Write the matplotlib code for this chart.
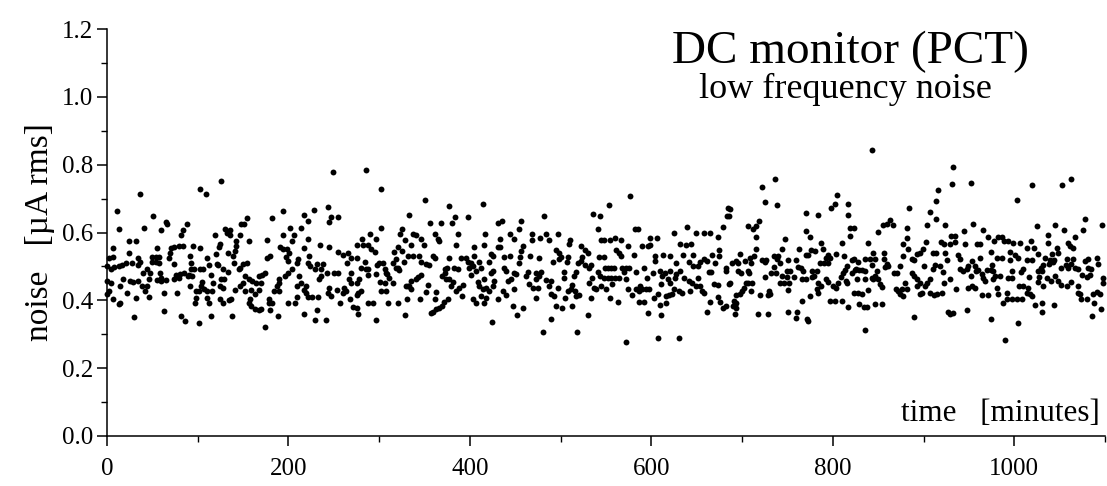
import matplotlib
matplotlib.use('Agg')
import matplotlib.pyplot as plt
from matplotlib.ticker import MultipleLocator, FormatStrFormatter

# readings: (time [minutes], noise [uA rms])
seg_0_135 = [(126,0.751),(102,0.727),(109,0.715),(36,0.715),(11,0.663),(51,0.649),(65,0.631),(66,0.625),(88,0.625),(13,0.611),(41,0.612),(60,0.606),(84,0.608),(82,0.592),(130,0.611),(132,0.599),(119,0.592),(24,0.575),(32,0.575),(7,0.555),(55,0.555),(71,0.553),(74,0.558),(79,0.560),(84,0.560),(95,0.560),(103,0.555),(123,0.557),(124,0.567),(24,0.540),(69,0.540),(120,0.537),(133,0.540),(2,0.525),(7,0.528),(34,0.525),(36,0.513),(50,0.528),(54,0.528),(57,0.528),(68,0.524),(91,0.530),(110,0.524),(50,0.513),(54,0.513),(57,0.511),(93,0.511),(74,0.508),(121,0.506),(0,0.501),(4,0.493),(8,0.499),(13,0.501),(16,0.503),(21,0.509),(27,0.509),(34,0.504),(40,0.481),(44,0.491),(47,0.481),(93,0.493),(96,0.491),(102,0.491),(106,0.493),(112,0.503),(122,0.504),(128,0.491),(133,0.483),(58,0.480),(60,0.467),(76,0.474),(80,0.477),(85,0.480),(90,0.474),(94,0.472),(115,0.474),(18,0.462),(25,0.457),(29,0.454),(34,0.458),(46,0.464),(55,0.460),(60,0.457),(65,0.460),(74,0.464),(79,0.467),(89,0.472),(105,0.454),(126,0.464),(129,0.462),(4,0.450),(14,0.442),(39,0.442),(44,0.442),(42,0.427),(91,0.442),(104,0.442),(107,0.432),(117,0.452),(125,0.442),(2,0.427),(0,0.420),(22,0.422),(63,0.422),(77,0.422),(98,0.427),(101,0.427),(110,0.427),(116,0.427),(128,0.435),(7,0.403),(32,0.408),(46,0.411),(98,0.408),(97,0.393),(110,0.408),(124,0.405),(134,0.401),(14,0.393),(13,0.388),(112,0.391),(128,0.391),(63,0.370),(30,0.352),(82,0.354),(86,0.339),(101,0.334),(115,0.354),(0,0.457)]

seg_135_270 = [(249,0.777),(243,0.675),(228,0.665),(194,0.664),(217,0.651),(221,0.633),(247,0.646),(245,0.630),(255,0.645),(154,0.644),(148,0.625),(151,0.625),(182,0.644),(202,0.612),(214,0.612),(136,0.607),(135,0.594),(147,0.593),(194,0.594),(206,0.594),(176,0.579),(156,0.574),(204,0.574),(221,0.581),(142,0.574),(142,0.560),(141,0.545),(139,0.532),(235,0.562),(245,0.557),(191,0.557),(194,0.550),(198,0.552),(201,0.540),(217,0.554),(255,0.542),(260,0.535),(266,0.540),(269,0.525),(180,0.530),(176,0.524),(197,0.528),(200,0.515),(223,0.530),(222,0.509),(224,0.501),(211,0.521),(209,0.511),(140,0.511),(150,0.508),(154,0.511),(146,0.496),(145,0.491),(231,0.506),(229,0.493),(238,0.506),(236,0.491),(264,0.511),(204,0.493),(242,0.480),(250,0.480),(255,0.480),(269,0.480),(174,0.480),(171,0.474),(168,0.472),(152,0.472),(157,0.462),(160,0.457),(164,0.452),(196,0.472),(200,0.481),(212,0.472),(234,0.462),(236,0.472),(267,0.462),(269,0.452),(150,0.452),(147,0.442),(190,0.462),(190,0.450),(187,0.442),(214,0.452),(219,0.442),(217,0.430),(170,0.450),(167,0.430),(209,0.442),(245,0.437),(261,0.437),(263,0.427),(141,0.430),(137,0.403),(152,0.427),(159,0.430),(163,0.418),(184,0.427),(190,0.427),(219,0.421),(222,0.411),(244,0.423),(247,0.413),(253,0.430),(260,0.421),(179,0.405),(182,0.391),(158,0.405),(209,0.411),(226,0.411),(232,0.411),(268,0.403),(156,0.391),(159,0.383),(163,0.375),(167,0.371),(170,0.373),(200,0.391),(207,0.391),(178,0.393),(180,0.371),(257,0.391),(271,0.380),(231,0.371),(217,0.360),(188,0.354),(138,0.353),(229,0.342),(241,0.341),(174,0.321)]

seg_270_410 = [(285,0.783),(302,0.727),(351,0.697),(333,0.652),(377,0.677),(384,0.646),(380,0.629),(398,0.647),(356,0.627),(368,0.627),(302,0.614),(325,0.609),(323,0.596),(290,0.596),(296,0.581),(281,0.581),(337,0.595),(341,0.594),(346,0.582),(349,0.563),(361,0.596),(365,0.582),(366,0.576),(387,0.596),(328,0.578),(275,0.562),(282,0.562),(288,0.562),(291,0.550),(295,0.542),(335,0.562),(385,0.562),(405,0.558),(405,0.532),(321,0.558),(316,0.542),(325,0.545),(275,0.525),(332,0.532),(337,0.532),(344,0.532),(359,0.530),(361,0.524),(377,0.525),(390,0.525),(396,0.525),(319,0.522),(315,0.511),(318,0.496),(284,0.513),(280,0.496),(300,0.509),(304,0.509),(298,0.503),(306,0.491),(308,0.481),(327,0.513),(346,0.513),(352,0.506),(355,0.503),(398,0.513),(401,0.509),(403,0.501),(399,0.496),(285,0.493),(288,0.493),(321,0.496),(322,0.489),(372,0.493),(375,0.496),(382,0.496),(387,0.491),(407,0.486),(372,0.481),(309,0.478),(311,0.467),(315,0.452),(297,0.478),(288,0.474),(346,0.474),(343,0.470),(340,0.462),(335,0.457),(332,0.442),(330,0.442),(333,0.442),(369,0.472),(374,0.464),(377,0.462),(381,0.454),(278,0.462),(275,0.452),(401,0.474),(301,0.454),(306,0.450),(409,0.454),(354,0.444),(392,0.444),(388,0.437),(280,0.427),(277,0.422),(275,0.415),(302,0.427),(307,0.427),(335,0.432),(379,0.442),(352,0.425),(363,0.425),(385,0.427),(391,0.413),(345,0.405),(361,0.405),(331,0.405),(376,0.405),(371,0.395),(369,0.383),(366,0.378),(363,0.374),(359,0.366),(357,0.362),(403,0.405),(407,0.393),(288,0.391),(293,0.391),(310,0.391),(321,0.391),(275,0.378),(277,0.361),(328,0.356),(296,0.341)]

seg_410_545 = [(414,0.684),(482,0.648),(536,0.655),(543,0.648),(431,0.629),(435,0.633),(456,0.634),(541,0.611),(454,0.609),(417,0.596),(444,0.596),(449,0.581),(468,0.596),(468,0.577),(477,0.583),(484,0.596),(487,0.577),(497,0.596),(433,0.582),(510,0.579),(509,0.565),(545,0.579),(416,0.562),(431,0.558),(433,0.558),(458,0.560),(456,0.545),(455,0.528),(454,0.509),(522,0.560),(527,0.548),(530,0.540),(495,0.548),(498,0.540),(500,0.528),(498,0.521),(438,0.528),(444,0.532),(425,0.530),(423,0.538),(466,0.532),(476,0.525),(508,0.528),(507,0.513),(524,0.528),(522,0.516),(519,0.509),(527,0.503),(531,0.496),(533,0.503),(542,0.528),(410,0.513),(412,0.496),(491,0.513),(421,0.513),(438,0.496),(440,0.486),(425,0.486),(423,0.480),(517,0.484),(515,0.472),(464,0.484),(462,0.472),(473,0.481),(478,0.484),(476,0.472),(473,0.462),(449,0.480),(451,0.477),(504,0.484),(504,0.467),(541,0.484),(543,0.472),(535,0.467),(445,0.462),(442,0.457),(416,0.462),(427,0.457),(425,0.442),(484,0.460),(487,0.442),(489,0.457),(465,0.447),(469,0.437),(513,0.444),(511,0.432),(410,0.442),(414,0.432),(531,0.452),(537,0.437),(539,0.432),(545,0.442),(418,0.437),(421,0.427),(449,0.432),(475,0.435),(497,0.437),(436,0.427),(440,0.416),(508,0.427),(516,0.427),(489,0.418),(520,0.415),(412,0.413),(418,0.408),(431,0.405),(473,0.408),(505,0.408),(533,0.408),(493,0.413),(517,0.413),(415,0.393),(447,0.383),(495,0.382),(501,0.376),(512,0.382),(459,0.376),(452,0.357),(530,0.358),(489,0.344),(424,0.336),(480,0.307),(518,0.307)]

seg_545_685 = [(576,0.707),(553,0.680),(684,0.673),(683,0.650),(582,0.611),(585,0.611),(639,0.617),(679,0.617),(625,0.598),(649,0.599),(658,0.599),(665,0.599),(673,0.586),(548,0.579),(554,0.579),(560,0.584),(566,0.579),(599,0.584),(606,0.584),(598,0.562),(590,0.560),(596,0.560),(574,0.560),(632,0.567),(638,0.562),(644,0.567),(561,0.548),(564,0.540),(566,0.532),(581,0.534),(613,0.534),(621,0.532),(635,0.534),(646,0.534),(674,0.548),(674,0.530),(667,0.535),(548,0.528),(604,0.530),(604,0.516),(627,0.509),(641,0.513),(646,0.501),(651,0.501),(654,0.513),(658,0.521),(661,0.516),(670,0.509),(549,0.496),(552,0.496),(555,0.496),(559,0.496),(568,0.496),(572,0.496),(575,0.496),(570,0.484),(592,0.496),(615,0.481),(610,0.486),(621,0.486),(627,0.477),(632,0.486),(583,0.484),(602,0.480),(663,0.484),(666,0.484),(682,0.496),(682,0.486),(548,0.467),(552,0.467),(555,0.467),(560,0.467),(564,0.467),(572,0.464),(595,0.467),(612,0.472),(618,0.464),(626,0.467),(636,0.467),(641,0.457),(645,0.452),(651,0.467),(557,0.447),(587,0.442),(583,0.432),(590,0.432),(594,0.432),(586,0.427),(611,0.447),(621,0.452),(625,0.432),(630,0.427),(634,0.422),(649,0.442),(654,0.442),(656,0.427),(669,0.447),(673,0.444),(685,0.447),(550,0.432),(574,0.432),(597,0.432),(607,0.418),(603,0.408),(616,0.413),(619,0.415),(623,0.418),(643,0.427),(579,0.415),(554,0.408),(658,0.423),(673,0.411),(676,0.395),(679,0.378),(563,0.395),(586,0.395),(592,0.395),(616,0.393),(610,0.385),(665,0.395),(682,0.383),(596,0.364),(611,0.358),(661,0.366),(572,0.276),(607,0.288),(630,0.288)]

seg_685_820 = [(736,0.758),(722,0.733),(725,0.689),(739,0.682),(805,0.711),(802,0.685),(798,0.671),(817,0.685),(817,0.653),(687,0.670),(685,0.650),(770,0.658),(784,0.652),(719,0.633),(715,0.619),(712,0.611),(706,0.619),(715,0.586),(770,0.603),(775,0.586),(819,0.614),(819,0.589),(747,0.581),(787,0.570),(810,0.570),(715,0.550),(713,0.530),(709,0.525),(744,0.550),(740,0.532),(735,0.530),(739,0.521),(742,0.511),(763,0.550),(776,0.548),(780,0.545),(773,0.535),(789,0.550),(698,0.536),(795,0.535),(792,0.525),(797,0.525),(795,0.511),(790,0.511),(786,0.511),(804,0.537),(812,0.530),(821,0.519),(689,0.511),(693,0.516),(695,0.509),(703,0.516),(710,0.511),(722,0.519),(725,0.513),(726,0.519),(751,0.519),(759,0.519),(770,0.535),(735,0.499),(732,0.481),(737,0.481),(750,0.486),(753,0.486),(762,0.499),(765,0.496),(767,0.486),(777,0.486),(782,0.486),(779,0.472),(816,0.501),(813,0.489),(811,0.481),(809,0.470),(814,0.457),(816,0.450),(696,0.486),(699,0.480),(706,0.486),(708,0.480),(821,0.481),(725,0.470),(744,0.472),(750,0.470),(742,0.450),(746,0.450),(752,0.450),(751,0.430),(757,0.470),(766,0.462),(770,0.462),(777,0.470),(792,0.464),(795,0.454),(800,0.442),(803,0.437),(806,0.450),(687,0.450),(704,0.450),(707,0.450),(711,0.450),(702,0.437),(700,0.427),(784,0.450),(787,0.442),(783,0.432),(784,0.421),(730,0.427),(731,0.418),(729,0.415),(710,0.427),(693,0.415),(698,0.418),(720,0.416),(775,0.413),(691,0.398),(693,0.393),(690,0.383),(692,0.388),(693,0.378),(766,0.397),(797,0.398),(802,0.398),(810,0.398),(817,0.380),(692,0.359),(718,0.359),(728,0.359),(751,0.367),(761,0.367),(759,0.347),(772,0.344),(773,0.339)]

seg_820_960 = [(843,0.842),(933,0.794),(931,0.744),(952,0.745),(916,0.724),(914,0.692),(884,0.672),(907,0.661),(914,0.641),(863,0.636),(866,0.623),(860,0.626),(855,0.621),(850,0.602),(882,0.614),(882,0.584),(904,0.622),(924,0.623),(954,0.624),(945,0.604),(930,0.591),(935,0.591),(823,0.614),(839,0.570),(877,0.565),(883,0.552),(903,0.572),(899,0.552),(896,0.540),(893,0.538),(919,0.572),(922,0.565),(929,0.565),(935,0.572),(946,0.565),(959,0.565),(844,0.540),(856,0.540),(877,0.532),(910,0.540),(914,0.540),(924,0.540),(926,0.519),(938,0.535),(940,0.521),(940,0.491),(944,0.486),(948,0.491),(949,0.501),(953,0.516),(823,0.521),(828,0.513),(825,0.491),(827,0.462),(836,0.521),(841,0.523),(846,0.521),(843,0.503),(856,0.521),(860,0.506),(858,0.499),(861,0.501),(887,0.523),(889,0.519),(874,0.501),(900,0.501),(913,0.503),(918,0.501),(910,0.491),(957,0.501),(958,0.486),(824,0.489),(829,0.489),(832,0.489),(836,0.486),(849,0.486),(847,0.472),(850,0.462),(852,0.447),(854,0.440),(867,0.481),(871,0.481),(887,0.481),(889,0.472),(893,0.462),(896,0.452),(893,0.442),(921,0.484),(952,0.472),(929,0.464),(907,0.462),(904,0.452),(902,0.442),(836,0.462),(843,0.467),(844,0.462),(922,0.452),(879,0.452),(876,0.432),(872,0.427),(870,0.432),(874,0.418),(877,0.413),(882,0.432),(839,0.430),(823,0.421),(828,0.421),(832,0.418),(936,0.432),(949,0.435),(953,0.442),(957,0.437),(896,0.418),(898,0.422),(907,0.421),(911,0.417),(915,0.418),(920,0.421),(829,0.388),(834,0.381),(838,0.381),(847,0.388),(854,0.388),(927,0.366),(929,0.359),(933,0.364),(948,0.372),(889,0.350),(835,0.312)]

seg_960_1100 = [(1062,0.759),(1053,0.739),(1020,0.739),(1003,0.695),(1078,0.640),(1025,0.620),(1045,0.621),(1055,0.607),(1097,0.621),(1076,0.608),(966,0.607),(971,0.586),(1037,0.594),(1067,0.588),(982,0.588),(986,0.588),(978,0.575),(989,0.575),(993,0.575),(962,0.567),(999,0.568),(1006,0.568),(1018,0.576),(1014,0.555),(1022,0.555),(1026,0.538),(1037,0.568),(1059,0.570),(1061,0.560),(1065,0.555),(1047,0.555),(1048,0.540),(1042,0.538),(974,0.543),(995,0.542),(1001,0.535),(1004,0.525),(981,0.524),(987,0.524),(995,0.519),(1014,0.519),(1019,0.519),(1034,0.525),(1039,0.519),(1044,0.519),(1058,0.521),(1065,0.521),(1081,0.522),(1078,0.516),(1091,0.525),(1092,0.506),(962,0.524),(975,0.504),(970,0.489),(974,0.489),(977,0.486),(960,0.488),(997,0.486),(993,0.467),(997,0.467),(1010,0.491),(1007,0.484),(1026,0.486),(1030,0.486),(1029,0.496),(1032,0.503),(1038,0.506),(1043,0.513),(1051,0.496),(1057,0.503),(1059,0.496),(1063,0.506),(1067,0.496),(1070,0.491),(1081,0.496),(1085,0.491),(964,0.477),(968,0.457),(966,0.467),(979,0.472),(984,0.472),(977,0.464),(1016,0.470),(1027,0.470),(1036,0.467),(1040,0.457),(1045,0.472),(1048,0.457),(1075,0.474),(1080,0.470),(1083,0.474),(1098,0.467),(1098,0.452),(1026,0.454),(1032,0.442),(1052,0.444),(1058,0.442),(1062,0.454),(1070,0.442),(1070,0.423),(1072,0.420),(981,0.435),(982,0.418),(1005,0.442),(1010,0.442),(1015,0.437),(964,0.416),(971,0.416),(992,0.423),(988,0.393),(1014,0.423),(1017,0.418),(1019,0.413),(1074,0.403),(1080,0.403),(1087,0.418),(1091,0.425),(1094,0.418),(992,0.403),(997,0.403),(1003,0.403),(1008,0.403),(1023,0.386),(1030,0.391),(1030,0.366),(1044,0.386),(1088,0.391),(1096,0.374),(1086,0.354),(974,0.346),(1004,0.334),(990,0.284)]

segments = [seg_0_135, seg_135_270, seg_270_410, seg_410_545,
            seg_545_685, seg_685_820, seg_820_960, seg_960_1100]

x_ticks = [0, 200, 400, 600, 800, 1000]
y_ticks = [0.0, 0.2, 0.4, 0.6, 0.8, 1.0, 1.2]

plt.rcParams['font.family'] = ['Liberation Serif', 'DejaVu Serif']

fig = plt.figure(figsize=(11.07, 4.86), dpi=100)
ax = fig.add_axes([0.0967, 0.1029, 0.9015, 0.8374])

for seg in segments:
    t = [p[0] for p in seg]
    v = [p[1] for p in seg]
    ax.scatter(t, v, s=18, color='black', linewidths=0, clip_on=False)

ax.set_xlim(0, 1100)
ax.set_ylim(0, 1.2)
ax.set_xticks(x_ticks)
ax.set_yticks(y_ticks)
ax.xaxis.set_minor_locator(MultipleLocator(100))
ax.yaxis.set_minor_locator(MultipleLocator(0.1))
ax.yaxis.set_major_formatter(FormatStrFormatter('%.1f'))

for side in ['top', 'right']:
    ax.spines[side].set_visible(False)
for side in ['left', 'bottom']:
    ax.spines[side].set_linewidth(1.1)

ax.tick_params(which='major', direction='out', length=7, width=1.1, colors='black')
ax.tick_params(which='minor', direction='out', length=4, width=1.0)
ax.tick_params(axis='x', which='major', pad=9, labelsize=18)
ax.tick_params(axis='y', which='major', pad=3, labelsize=18)

fig.text(0.036, 0.523, 'noise   [\u00b5A rms]', rotation=90, ha='center', va='center', fontsize=24)
fig.text(0.9937, 0.150, 'time   [minutes]', ha='right', va='center', fontsize=22.5)
fig.text(0.768, 0.893, 'DC monitor (PCT)', ha='center', va='center', fontsize=34)
fig.text(0.764, 0.815, 'low frequency noise', ha='center', va='center', fontsize=26)

fig.savefig('out.png', dpi=100)
